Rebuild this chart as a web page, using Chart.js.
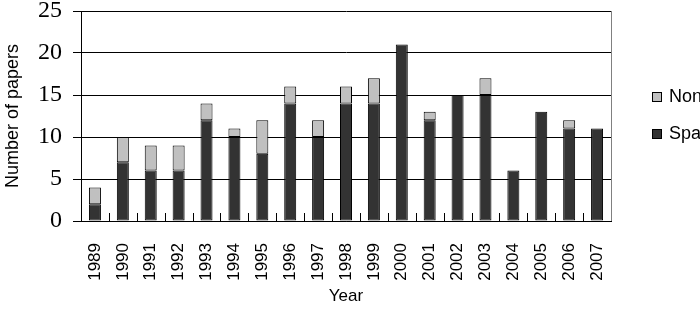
<!DOCTYPE html>
<html>
<head>
<meta charset="utf-8">
<script src="https://cdn.jsdelivr.net/npm/chart.js@4/dist/chart.umd.min.js"></script>
<style>
  html, body { margin: 0; padding: 0; background: #fff; overflow: hidden; }
  #wrap { width: 700px; height: 316px; }
  .probe { position: absolute; left: -999px; top: -999px; }
</style>
</head>
<body>
<span class="probe" style="font-family: 'Liberation Sans'">1989</span>
<span class="probe" style="font-family: 'Liberation Serif'">25</span>
<div id="wrap"><canvas id="papersChart" width="700" height="316"></canvas></div>
<script>
var years = ['1989', '1990', '1991', '1992', '1993', '1994', '1995', '1996', '1997', '1998',
             '1999', '2000', '2001', '2002', '2003', '2004', '2005', '2006', '2007'];
var spatial    = [2, 7, 6, 6, 12, 10, 8, 14, 10, 14, 14, 21, 12, 15, 15, 6, 13, 11, 11];
var nonSpatial = [2, 3, 3, 3, 2, 1, 4, 2, 2, 2, 3, 0, 1, 0, 2, 0, 0, 1, 0];
var yTicks = [0, 5, 10, 15, 20, 25];

var SANS = "'Liberation Sans', Arial, sans-serif";
var SERIF = "'Liberation Serif', 'Times New Roman', serif";

// short tick marks between categories, right border, and the legend on the right
var extras = {
    id: 'extras',
    afterDraw: function (chart) {
        var ctx = chart.ctx;
        var area = chart.chartArea;
        var x = chart.scales.x;
        ctx.save();
        ctx.strokeStyle = '#000';
        ctx.lineWidth = 1;
        for (var i = 1; i < years.length; i++) {
            var px = Math.round((x.getPixelForValue(i - 1) + x.getPixelForValue(i)) / 2) + 0.5;
            ctx.beginPath();
            ctx.moveTo(px, area.bottom);
            ctx.lineTo(px, area.bottom - 8);
            ctx.stroke();
        }
        ctx.strokeStyle = '#808080';
        ctx.beginPath();
        ctx.moveTo(Math.round(area.right) + 0.5, area.top);
        ctx.lineTo(Math.round(area.right) + 0.5, area.bottom);
        ctx.stroke();

        // legend (top entry is the upper stack)
        var items = [chart.data.datasets[1], chart.data.datasets[0]];
        var rows = [92, 129];
        ctx.font = '18px ' + SANS;
        ctx.textBaseline = 'middle';
        ctx.textAlign = 'left';
        for (var j = 0; j < items.length; j++) {
            ctx.fillStyle = items[j].backgroundColor;
            ctx.fillRect(652, rows[j], 10, 10);
            ctx.strokeStyle = '#000';
            ctx.strokeRect(652.5, rows[j] + 0.5, 9, 9);
            ctx.fillStyle = '#000';
            ctx.fillText(items[j].label, 669, rows[j] + 5);
        }
        ctx.restore();
    }
};

function drawChart() {
    var papersChart = new Chart(document.getElementById('papersChart').getContext('2d'), {
        type: 'bar',
        data: {
            labels: years,
            datasets: [{
                label: 'Spatial',
                data: spatial,
                backgroundColor: '#333333',
                borderColor: '#000',
                borderWidth: 1,
                borderSkipped: false
            }, {
                label: 'Non-spatial',
                data: nonSpatial,
                backgroundColor: '#c0c0c0',
                borderColor: '#000',
                borderWidth: 1,
                borderSkipped: false
            }]
        },
        options: {
            responsive: false,
            animation: false,
            events: [],
            layout: { padding: { left: 0, right: 89, top: 11, bottom: 0 } },
            datasets: { bar: { categoryPercentage: 1, barPercentage: 0.43 } },
            plugins: { legend: { display: false }, tooltip: { enabled: false } },
            scales: {
                x: {
                    stacked: true,
                    afterFit: function (s) { s.height = 95; s.paddingLeft = 0; s.paddingRight = 0; },
                    grid: { display: false },
                    border: { display: true, color: '#000', width: 1 },
                    ticks: {
                        color: '#000',
                        minRotation: 90,
                        maxRotation: 90,
                        padding: 14,
                        font: { family: SANS, size: 17 }
                    },
                    title: {
                        display: true,
                        text: 'Year',
                        color: '#000',
                        padding: { top: 0, bottom: 9 },
                        font: { family: SANS, size: 17 }
                    }
                },
                y: {
                    stacked: true,
                    min: 0,
                    max: 25,
                    afterFit: function (s) { s.width = 81; s.paddingTop = 0; s.paddingBottom = 0; },
                    afterBuildTicks: function (s) {
                        s.ticks = yTicks.map(function (v) { return { value: v }; });
                    },
                    grid: { color: '#000', lineWidth: 1, drawTicks: true, tickLength: 8, tickColor: '#000' },
                    border: { display: true, color: '#000', width: 1 },
                    ticks: {
                        color: '#000',
                        padding: 11,
                        font: { family: SERIF, size: 24 }
                    },
                    title: {
                        display: true,
                        text: 'Number of papers',
                        color: '#000',
                        padding: { top: 2, bottom: 0 },
                        font: { family: SANS, size: 18 }
                    }
                }
            }
        },
        plugins: [extras]
    });
}

Promise.all([
    document.fonts.load('17px "Liberation Sans"'),
    document.fonts.load('24px "Liberation Serif"')
]).then(drawChart, drawChart);
</script>
</body>
</html>
